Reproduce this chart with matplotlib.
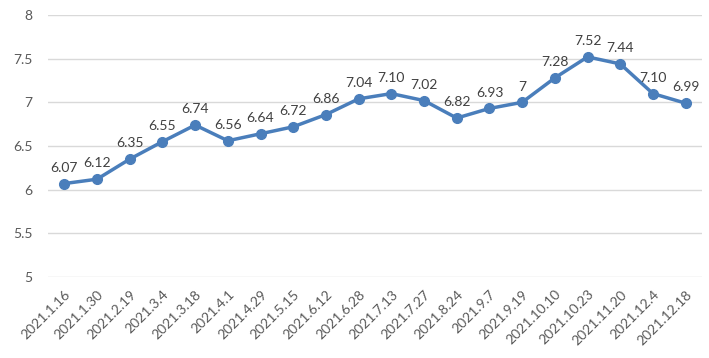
import matplotlib
matplotlib.use("Agg")
import matplotlib.pyplot as plt

plt.rcParams['font.family'] = ['Lato', 'DejaVu Sans']

# --- Data ---
dates = ["2021.1.16", "2021.1.30", "2021.2.19", "2021.3.4", "2021.3.18",
         "2021.4.1", "2021.4.29", "2021.5.15", "2021.6.12", "2021.6.28",
         "2021.7.13", "2021.7.27", "2021.8.24", "2021.9.7", "2021.9.19",
         "2021.10.10", "2021.10.23", "2021.11.20", "2021.12.4", "2021.12.18"]
values = [6.07, 6.12, 6.35, 6.55, 6.74, 6.56, 6.64, 6.72, 6.86, 7.04,
          7.10, 7.02, 6.82, 6.93, 7.00, 7.28, 7.52, 7.44, 7.10, 6.99]
value_labels = ["6.07", "6.12", "6.35", "6.55", "6.74", "6.56", "6.64", "6.72",
                "6.86", "7.04", "7.10", "7.02", "6.82", "6.93", "7", "7.28",
                "7.52", "7.44", "7.10", "6.99"]
y_ticks = [5, 5.5, 6, 6.5, 7, 7.5, 8]

LINE_COLOR = '#4a7ebb'

fig = plt.figure(figsize=(7.09, 3.58), dpi=100)
ax = fig.add_axes([48 / 709, 1 - 277 / 358, 654 / 709, 262 / 358])

x = list(range(len(dates)))
ax.plot(x, values, color=LINE_COLOR, lw=2.5, marker='o', markersize=7,
        markerfacecolor=LINE_COLOR, markeredgecolor=LINE_COLOR, zorder=3)

for xi, v, lab in zip(x, values, value_labels):
    ax.annotate(lab, (xi, v), xytext=(0, 7), textcoords='offset points',
                ha='center', va='bottom', fontsize=10, color='#404040')

ax.set_xlim(-0.5, len(dates) - 0.5)
ax.set_ylim(5, 8)
ax.set_yticks(y_ticks)
ax.set_yticklabels([f"{t:g}" for t in y_ticks])
ax.set_xticks(x)
ax.set_xticklabels(dates, rotation=45, ha='right', rotation_mode='anchor')

ax.grid(axis='y', color='#d9d9d9', lw=1)
ax.set_axisbelow(True)
for s in ax.spines.values():
    s.set_visible(False)
ax.tick_params(axis='both', length=0, labelsize=10, colors='#595959')
ax.tick_params(axis='y', pad=11)
ax.tick_params(axis='x', pad=8)

fig.savefig("out.png", dpi=100, facecolor='white')
